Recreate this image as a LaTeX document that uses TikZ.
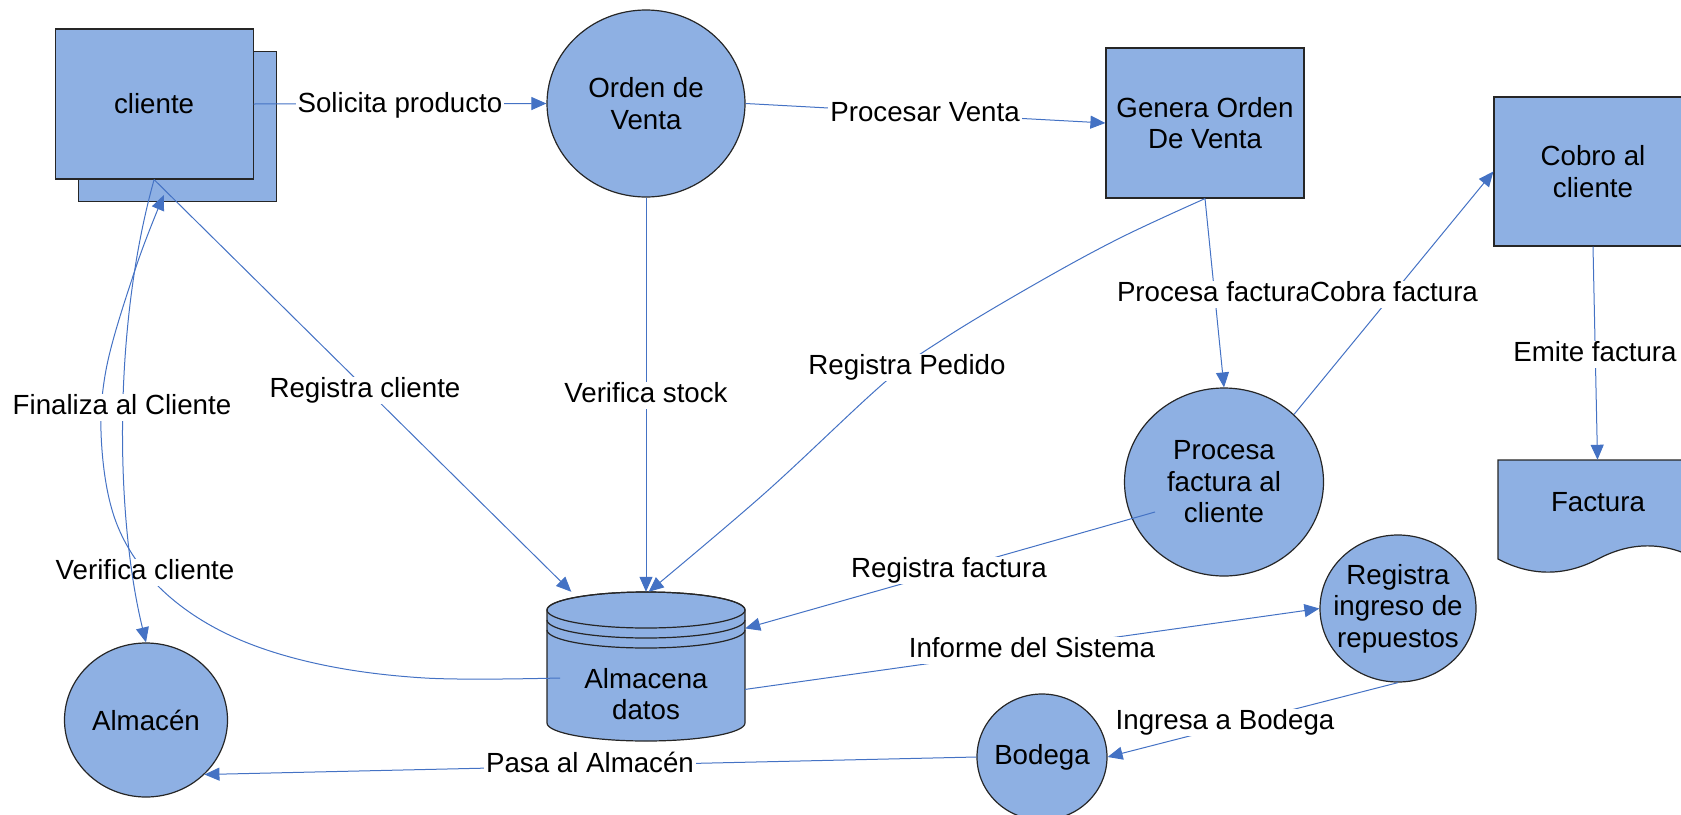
\documentclass[tikz,border=0pt]{standalone}
\usepackage{fontspec}
\setmainfont{Liberation Sans}
\usetikzlibrary{arrows.meta,shapes.geometric,calc}
\definecolor{boxfill}{RGB}{142,176,227}
\definecolor{flow}{RGB}{68,114,196}
\begin{document}
\begin{tikzpicture}[x=1pt,y=-1pt,
  font=\fontsize{27.7}{31.5}\selectfont,
  outline/.style={draw=black!85, line width=1.2pt, fill=boxfill},
  entity/.style={outline, rectangle, inner sep=2pt, minimum width=198pt, minimum height=150pt, align=center},
  proc/.style={outline, ellipse, inner sep=-30pt, align=center},
  frame/.style={inner sep=0pt},
  caption/.style={align=center},
  flowline/.style={draw=flow, line width=1pt},
  arr/.style={flowline, -{Triangle[length=15pt,width=13pt]}},
  lbl/.style={fill=white, inner xsep=2pt, inner ysep=1pt, text height=20pt, text depth=5.5pt}
]
\useasboundingbox (0,0) rectangle (1681,814);

% ---- external entities and processes
\node[entity] (clienteb) at (177.8,126.5) {};
\node[entity] (cliente) at (154.1,104) {cliente};
\node[proc, minimum width=198pt, minimum height=187pt] (orden) at (646,103.5) {Orden de\\Venta};
\node[entity] (genera) at (1205,123) {Genera Orden\\De Venta};
\node[entity, minimum height=149pt] (cobro) at (1593,171.5) {Cobro al\\cliente};
\node[proc, minimum width=199pt, minimum height=188pt] (procesa) at (1224,482) {Procesa\\factura al\\cliente};
\node[proc, minimum width=156pt, minimum height=147pt] (ingreso) at (1398,608.5) {Registra\\ingreso de\\repuestos};
\node[proc, minimum width=130pt, minimum height=126pt] (bodega) at (1042,757) {Bodega};
\node[proc, minimum width=163pt, minimum height=154pt] (almacen) at (146,720) {Almacén};

% ---- data store (cylinder)
\path[outline] (547,610) -- (547,723)
  arc[start angle=180, end angle=360, x radius=99pt, y radius=18pt] -- (745,610)
  arc[start angle=0, end angle=180, x radius=99pt, y radius=18pt] -- cycle;
\draw[black!85, line width=1.2pt] (646,610) ellipse [x radius=99pt, y radius=18pt];
\draw[black!85, line width=1.2pt] (547,620) arc[start angle=180, end angle=360, x radius=99pt, y radius=18pt];
\draw[black!85, line width=1.2pt] (547,630) arc[start angle=180, end angle=360, x radius=99pt, y radius=18pt];
\node[frame, minimum width=198pt, minimum height=149pt] (datos) at (646,666.5) {};
\node[caption] (datosT) at (646,694) {Almacena\\datos};

% ---- document
\path[outline] (1498,460) -- (1697,460) -- (1697,559)
  .. controls (1664,541.5) and (1631,541.5) .. (1598,559)
  .. controls (1565,576.5) and (1531,576.5) .. (1498,559) -- cycle;
\node[frame, minimum width=199pt, minimum height=99pt] (factura) at (1597.5,509.5) {};
\node[caption] (facturaT) at (1598,502) {Factura};

% ---- free ends
\coordinate (vcStart) at ([shift={(-86pt,-11.5pt)}]datos.center);
\coordinate (vcEnd) at ([shift={(-14pt,7pt)}]clienteb.south);
\coordinate (rfStart) at ([shift={(-69pt,-30pt)}]procesa.center);

% ---- data flows
\draw[arr] (cliente.east) -- (orden.west);
\draw[arr] (orden.east) -- (genera.west);
\draw[arr] (orden.south) -- (datos.north);
\draw[arr] (cliente.south) -- (datos.135);
\draw[arr] plot[smooth, tension=0.6] coordinates {(genera.south) (1120,238) (1037,283) (945,338) (885,382) (765,493) (datos.88)};
\draw[arr] (genera.south) -- (procesa.north);
\draw[arr] (procesa.44) -- (cobro.west);
\draw[arr] (cobro.south) -- (factura.north);
\draw[arr] (rfStart) -- (datos.21);
\draw[arr] (datos.-13) -- (ingreso.west);
\draw[arr] (ingreso.south) -- (bodega.east);
\draw[arr] (bodega.west) -- (almacen.-43);
\draw[arr] plot[smooth, tension=0.6] coordinates {(vcStart) (425,678) (314,663) (225,633) (159,587) (118,527) (102,450) (106,370) (136,267) (vcEnd)};

% ---- flow labels
\node[lbl] (l1) at (400,105.5) {Solicita producto};
\node[lbl] (l2) at (925,114.5) {Procesar Venta};
\node[lbl] (l3) at (646,395.5) {Verifica stock};
\node[lbl] (l4) at (365,390.5) {Registra cliente};
\node[lbl] (l5) at (907,367.5) {Registra Pedido};
\node[lbl] (l6) at (1214,294.5) {Procesa factura};
\node[lbl] (l7) at (1394,294.5) {Cobra factura};
\node[lbl] (l8) at (1595,354.5) {Emite factura};
\node[lbl] (l9) at (949,570.5) {Registra factura};
\node[lbl] (l10) at (1032,650.5) {Informe del Sistema};
\node[lbl] (l11) at (1225,722.5) {Ingresa a Bodega};
\node[lbl] (l12) at (590,765.5) {Pasa al Almacén};
\node[lbl] (l13) at (145,572.5) {Verifica cliente};

\draw[arr] (cliente.south) .. controls (112,330) and (116,520) .. (almacen.north);
\node[lbl] (l14) at (122,407.5) {Finaliza al Cliente};
\end{tikzpicture}
\end{document}
